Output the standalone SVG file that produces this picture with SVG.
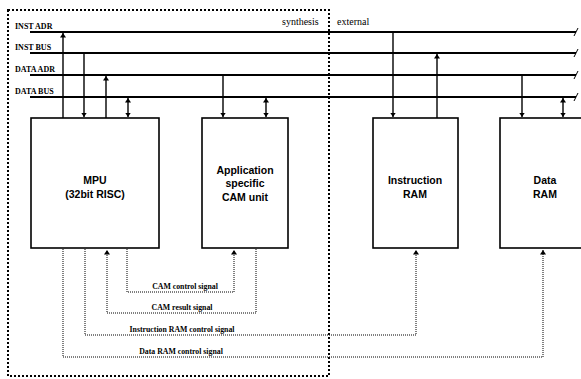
<svg xmlns="http://www.w3.org/2000/svg" width="581" height="379" viewBox="0 0 581 379">
<style>
.bus{stroke:#000;stroke-width:2;fill:none}
.box{fill:#fff;stroke:#000;stroke-width:1.6}
.con{stroke:#000;stroke-width:1.4;fill:none}
.ctl{stroke:#000;stroke-width:1;stroke-dasharray:1 1;fill:none}
.frame{stroke:#000;stroke-width:2;stroke-dasharray:2 2;fill:none}
.bl{font-family:"Liberation Serif",serif;font-weight:bold;font-size:8px;fill:#000}
.sl{font-family:"Liberation Serif",serif;font-weight:bold;font-size:7.8px;fill:#000;text-anchor:middle}
.zone{font-family:"Liberation Serif",serif;font-size:10px;fill:#000}
.nl{font-family:"Liberation Sans",Arial,sans-serif;font-weight:bold;font-size:10.5px;fill:#000;text-anchor:middle}
</style>
<defs>
<marker id="ah" viewBox="0 0 10 10" refX="10" refY="5" markerWidth="4.5" markerHeight="6" markerUnits="userSpaceOnUse" orient="auto-start-reverse" preserveAspectRatio="none">
<path d="M0,0 L10,5 L0,10 z" fill="#000"/>
</marker>
</defs>

<rect class="frame" x="8" y="10" width="321" height="366"/>
<text class="zone" x="282" y="25">synthesis</text>
<text class="zone" x="337" y="25">external</text>

<g id="buses">
<line class="bus" x1="30" y1="32" x2="576" y2="32"/>
<line class="bus" x1="30" y1="53" x2="576" y2="53"/>
<line class="bus" x1="30" y1="75" x2="576" y2="75"/>
<line class="bus" x1="30" y1="97" x2="576" y2="97"/>
<text class="bl" x="15" y="29">INST ADR</text>
<text class="bl" x="15" y="50">INST BUS</text>
<text class="bl" x="15" y="72">DATA ADR</text>
<text class="bl" x="15" y="94">DATA BUS</text>
<g stroke="#000" stroke-width="1">
<line x1="574" y1="36" x2="578" y2="28"/>
<line x1="574" y1="57" x2="578" y2="49"/>
<line x1="574" y1="79" x2="578" y2="71"/>
<line x1="574" y1="101" x2="578" y2="93"/>
</g>
</g>

<g id="mpu">
<rect class="box" x="31" y="118" width="128" height="130"/>
<text class="nl" x="95" y="184">MPU</text>
<text class="nl" x="95" y="198">(32bit RISC)</text>
</g>
<g id="cam">
<rect class="box" x="202" y="118" width="86" height="130"/>
<text class="nl" x="245" y="174">Application</text>
<text class="nl" x="245" y="187">specific</text>
<text class="nl" x="245" y="201">CAM unit</text>
</g>
<g id="iram">
<rect class="box" x="373" y="118" width="85" height="130"/>
<text class="nl" x="415" y="184">Instruction</text>
<text class="nl" x="415" y="198">RAM</text>
</g>
<g id="dram">
<rect class="box" x="500" y="118" width="90" height="130"/>
<text class="nl" x="545" y="184">Data</text>
<text class="nl" x="545" y="198">RAM</text>
</g>

<g id="connectors">
<line class="con" x1="63" y1="118" x2="63" y2="33" marker-end="url(#ah)"/>
<line class="con" x1="84" y1="54" x2="84" y2="117" marker-end="url(#ah)"/>
<line class="con" x1="106" y1="118" x2="106" y2="76" marker-end="url(#ah)"/>
<line class="con" x1="128" y1="98" x2="128" y2="117" marker-start="url(#ah)" marker-end="url(#ah)"/>
<line class="con" x1="223" y1="76" x2="223" y2="117" marker-end="url(#ah)"/>
<line class="con" x1="266" y1="98" x2="266" y2="117" marker-start="url(#ah)" marker-end="url(#ah)"/>
<line class="con" x1="393" y1="33" x2="393" y2="117" marker-end="url(#ah)"/>
<line class="con" x1="437" y1="118" x2="437" y2="54" marker-end="url(#ah)"/>
<line class="con" x1="522" y1="76" x2="522" y2="117" marker-end="url(#ah)"/>
<line class="con" x1="563" y1="98" x2="563" y2="117" marker-start="url(#ah)" marker-end="url(#ah)"/>

<path class="ctl" d="M127,249 V292 H234 V250" marker-end="url(#ah)"/>
<path class="ctl" d="M256,249 V313 H107 V250" marker-end="url(#ah)"/>
<path class="ctl" d="M85,249 V335 H416 V250" marker-end="url(#ah)"/>
<path class="ctl" d="M63,249 V357 H543 V250" marker-end="url(#ah)"/>
<text class="sl" x="185" y="289">CAM control signal</text>
<text class="sl" x="182" y="310">CAM result signal</text>
<text class="sl" x="182" y="332">Instruction RAM control signal</text>
<text class="sl" x="181" y="354">Data RAM control signal</text>
</g>
</svg>
